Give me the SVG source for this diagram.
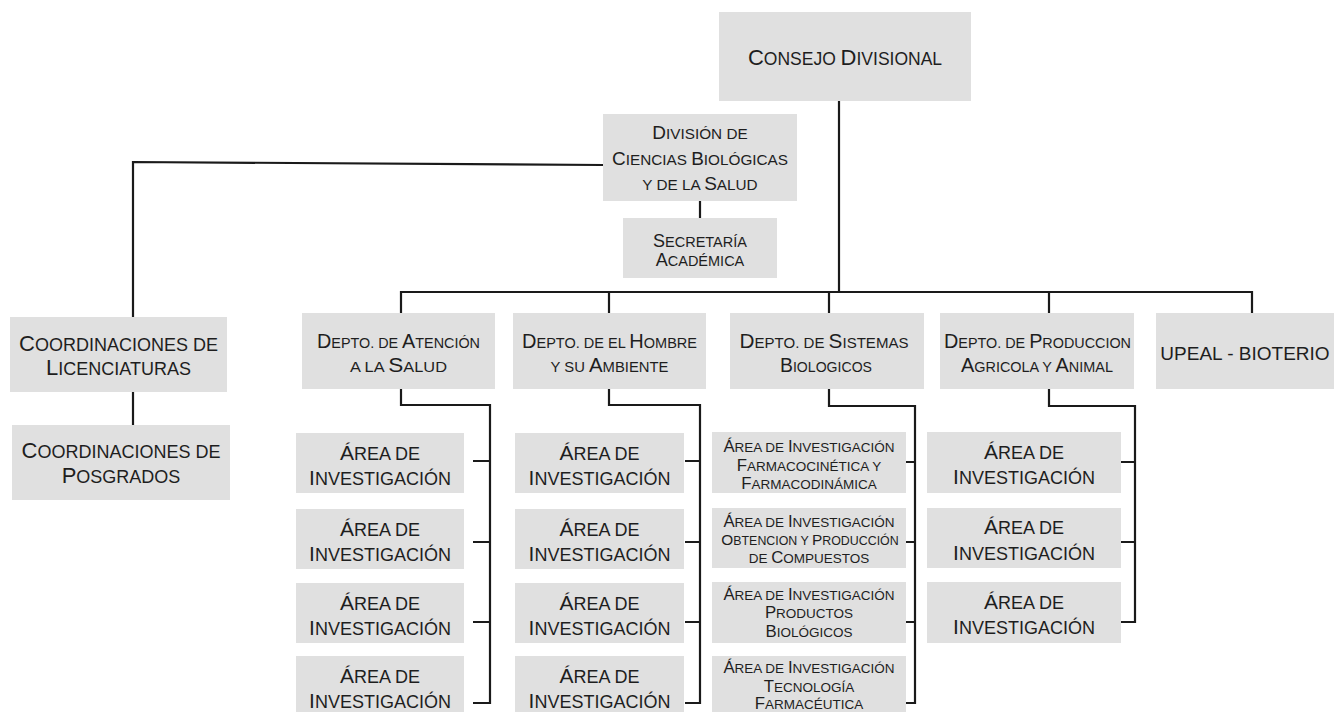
<svg xmlns="http://www.w3.org/2000/svg" width="1336" height="712" viewBox="0 0 1336 712">
<style>
.bx{fill:#e0e0e0}
text{font-family:"Liberation Sans",Arial,Helvetica,sans-serif;fill:#1e1e1e;text-anchor:middle}
.cn{stroke:#1a1a1a;stroke-width:2.2;fill:none}
.k{font-size:17.5px}.k .B{font-size:22px}
.dv{font-size:15.3px}.dv .B{font-size:19px}
.sc{font-size:14.5px}.sc .B{font-size:18px}
.co{font-size:18px}.co .B{font-size:22px}
.dp{font-size:14.5px}.dp .B{font-size:20px}
.up{font-size:19px}
.ar{font-size:18px}.ar .B{font-size:21px}
.as{font-size:13.5px}.as .B{font-size:16.8px}
.as2{font-size:12.4px}.as2 .B{font-size:15.4px}
</style>
<rect width="1336" height="712" fill="#ffffff"/>
<g id="connectors" class="cn">
<path d="M839,101V292"/>
<path d="M401,313V292H1252V313"/>
<path d="M609,292V313M829,292V313M1049,292V313"/>
<path d="M603,165L133,162V317"/>
<path d="M133,392V425"/>
<path d="M700,201V218"/>
<path d="M401,389V405H490V703H473M473,461H490M473,542H490M473,622H490"/>
<path d="M609,389V405H700V703H685M685,461H700M685,542H700M685,622H700"/>
<path d="M829,389V406H915V703H906M906,462H915M906,542H915M906,622H915"/>
<path d="M1049,389V406H1135V622H1119M1119,462H1135M1119,542H1135"/>
</g>
<g id="consejo"><rect class="bx" x="719" y="12" width="252" height="89"/>
<text x="845" y="65" class="k"><tspan class="B">C</tspan>ONSEJO <tspan class="B">D</tspan>IVISIONAL</text></g>
<g id="division"><rect class="bx" x="603" y="114" width="194" height="87"/>
<text x="700" y="139" class="dv"><tspan class="B">D</tspan>IVISIÓN DE</text>
<text x="700" y="165" class="dv"><tspan class="B">C</tspan>IENCIAS <tspan class="B">B</tspan>IOLÓGICAS</text>
<text x="700" y="190" class="dv">Y DE LA <tspan class="B">S</tspan>ALUD</text></g>
<g id="secretaria"><rect class="bx" x="623" y="218" width="154" height="60"/>
<text x="700" y="247" class="sc"><tspan class="B">S</tspan>ECRETARÍA</text>
<text x="700" y="266" class="sc"><tspan class="B">A</tspan>CADÉMICA</text></g>
<g id="coord-lic"><rect class="bx" x="10" y="317" width="217" height="75"/>
<text x="118.5" y="351" class="co"><tspan class="B">C</tspan>OORDINACIONES DE</text>
<text x="118.5" y="375" class="co"><tspan class="B">L</tspan>ICENCIATURAS</text></g>
<g id="coord-pos"><rect class="bx" x="12" y="425" width="218" height="75"/>
<text x="121" y="458" class="co"><tspan class="B">C</tspan>OORDINACIONES DE</text>
<text x="121" y="483" class="co"><tspan class="B">P</tspan>OSGRADOS</text></g>
<g id="depto-atencion"><rect class="bx" x="302" y="313" width="193" height="76"/>
<text x="398.5" y="348" class="dp" textLength="163" lengthAdjust="spacingAndGlyphs"><tspan class="B">D</tspan>EPTO. DE <tspan class="B">A</tspan>TENCIÓN</text>
<text x="398.5" y="372" class="dp" textLength="97" lengthAdjust="spacingAndGlyphs">A LA <tspan class="B">S</tspan>ALUD</text></g>
<g id="depto-hombre"><rect class="bx" x="513" y="313" width="193" height="76"/>
<text x="609.5" y="348" class="dp" textLength="175" lengthAdjust="spacingAndGlyphs"><tspan class="B">D</tspan>EPTO. DE EL <tspan class="B">H</tspan>OMBRE</text>
<text x="609.5" y="372" class="dp" textLength="118" lengthAdjust="spacingAndGlyphs">Y SU <tspan class="B">A</tspan>MBIENTE</text></g>
<g id="depto-sistemas"><rect class="bx" x="730" y="313" width="194" height="76"/>
<text x="824" y="348" class="dp" textLength="169" lengthAdjust="spacingAndGlyphs"><tspan class="B">D</tspan>EPTO. DE <tspan class="B">S</tspan>ISTEMAS</text>
<text x="826" y="372" class="dp" textLength="92" lengthAdjust="spacingAndGlyphs"><tspan class="B">B</tspan>IOLOGICOS</text></g>
<g id="depto-produccion"><rect class="bx" x="940" y="313" width="194" height="76"/>
<text x="1037.5" y="348" class="dp" textLength="187" lengthAdjust="spacingAndGlyphs"><tspan class="B">D</tspan>EPTO. DE <tspan class="B">P</tspan>RODUCCION</text>
<text x="1037" y="372" class="dp" textLength="152" lengthAdjust="spacingAndGlyphs"><tspan class="B">A</tspan>GRICOLA Y <tspan class="B">A</tspan>NIMAL</text></g>
<g id="upeal"><rect class="bx" x="1156" y="313" width="178" height="76"/>
<text x="1245" y="360" class="up">UPEAL - BIOTERIO</text></g>
<g id="area-a1"><rect class="bx" x="296" y="433" width="168" height="60"/><text x="380" y="460" class="ar"><tspan class="B">Á</tspan>REA DE</text><text x="380" y="485" class="ar"><tspan class="B">I</tspan>NVESTIGACIÓN</text></g>
<g id="area-a2"><rect class="bx" x="296" y="509" width="168" height="60"/><text x="380" y="536" class="ar"><tspan class="B">Á</tspan>REA DE</text><text x="380" y="561" class="ar"><tspan class="B">I</tspan>NVESTIGACIÓN</text></g>
<g id="area-a3"><rect class="bx" x="296" y="583" width="168" height="60"/><text x="380" y="610" class="ar"><tspan class="B">Á</tspan>REA DE</text><text x="380" y="635" class="ar"><tspan class="B">I</tspan>NVESTIGACIÓN</text></g>
<g id="area-a4"><rect class="bx" x="296" y="656" width="168" height="56"/><text x="380" y="683" class="ar"><tspan class="B">Á</tspan>REA DE</text><text x="380" y="708" class="ar"><tspan class="B">I</tspan>NVESTIGACIÓN</text></g>
<g id="area-h1"><rect class="bx" x="515" y="433" width="169" height="60"/><text x="599.5" y="460" class="ar"><tspan class="B">Á</tspan>REA DE</text><text x="599.5" y="485" class="ar"><tspan class="B">I</tspan>NVESTIGACIÓN</text></g>
<g id="area-h2"><rect class="bx" x="515" y="509" width="169" height="60"/><text x="599.5" y="536" class="ar"><tspan class="B">Á</tspan>REA DE</text><text x="599.5" y="561" class="ar"><tspan class="B">I</tspan>NVESTIGACIÓN</text></g>
<g id="area-h3"><rect class="bx" x="515" y="583" width="169" height="60"/><text x="599.5" y="610" class="ar"><tspan class="B">Á</tspan>REA DE</text><text x="599.5" y="635" class="ar"><tspan class="B">I</tspan>NVESTIGACIÓN</text></g>
<g id="area-h4"><rect class="bx" x="515" y="656" width="169" height="56"/><text x="599.5" y="683" class="ar"><tspan class="B">Á</tspan>REA DE</text><text x="599.5" y="708" class="ar"><tspan class="B">I</tspan>NVESTIGACIÓN</text></g>
<g id="area-s1"><rect class="bx" x="712" y="432" width="194" height="61"/>
<text x="809" y="452" class="as"><tspan class="B">Á</tspan>REA DE <tspan class="B">I</tspan>NVESTIGACIÓN</text>
<text x="809" y="471" class="as"><tspan class="B">F</tspan>ARMACOCINÉTICA Y</text>
<text x="809" y="489" class="as"><tspan class="B">F</tspan>ARMACODINÁMICA</text></g>
<g id="area-s2"><rect class="bx" x="712" y="508" width="194" height="60"/>
<text x="809" y="527" class="as"><tspan class="B">Á</tspan>REA DE <tspan class="B">I</tspan>NVESTIGACIÓN</text>
<text x="810" y="545" class="as2"><tspan class="B">O</tspan>BTENCION Y <tspan class="B">P</tspan>RODUCCIÓN</text>
<text x="809" y="563" class="as">DE <tspan class="B">C</tspan>OMPUESTOS</text></g>
<g id="area-s3"><rect class="bx" x="712" y="582" width="194" height="61"/>
<text x="809" y="600" class="as"><tspan class="B">Á</tspan>REA DE <tspan class="B">I</tspan>NVESTIGACIÓN</text>
<text x="809" y="618" class="as"><tspan class="B">P</tspan>RODUCTOS</text>
<text x="809" y="637" class="as"><tspan class="B">B</tspan>IOLÓGICOS</text></g>
<g id="area-s4"><rect class="bx" x="712" y="656" width="194" height="56"/>
<text x="809" y="673" class="as"><tspan class="B">Á</tspan>REA DE <tspan class="B">I</tspan>NVESTIGACIÓN</text>
<text x="809" y="692" class="as"><tspan class="B">T</tspan>ECNOLOGÍA</text>
<text x="809" y="709" class="as"><tspan class="B">F</tspan>ARMACÉUTICA</text></g>
<g id="area-p1"><rect class="bx" x="927" y="432" width="194" height="61"/><text x="1024" y="459" class="ar"><tspan class="B">Á</tspan>REA DE</text><text x="1024" y="484" class="ar"><tspan class="B">I</tspan>NVESTIGACIÓN</text></g>
<g id="area-p2"><rect class="bx" x="927" y="508" width="194" height="60"/><text x="1024" y="534" class="ar"><tspan class="B">Á</tspan>REA DE</text><text x="1024" y="560" class="ar"><tspan class="B">I</tspan>NVESTIGACIÓN</text></g>
<g id="area-p3"><rect class="bx" x="927" y="582" width="194" height="61"/><text x="1024" y="609" class="ar"><tspan class="B">Á</tspan>REA DE</text><text x="1024" y="634" class="ar"><tspan class="B">I</tspan>NVESTIGACIÓN</text></g>
</svg>
